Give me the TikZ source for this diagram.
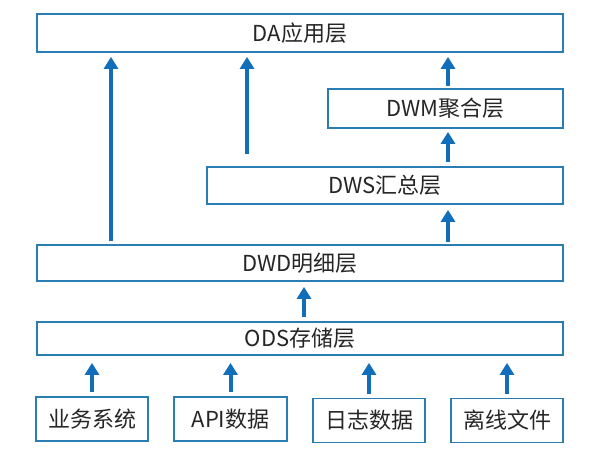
\documentclass[tikz,border=0pt]{standalone}
\usepackage{fontspec}
\setmainfont{Noto Sans CJK SC}
\usetikzlibrary{arrows.meta}
\definecolor{boxc}{RGB}{42,125,178}
\definecolor{arrc}{RGB}{16,110,186}
\definecolor{txtc}{RGB}{38,38,38}
\tikzset{
  layer/.style={draw=boxc, line width=1.8pt, fill=white, inner sep=0pt,
    text=txtc, font=\fontsize{22}{25}\selectfont},
  arr/.style={draw=arrc, line width=4pt, -{Triangle[width=14pt,length=12pt]}}
}
\begin{document}
\begin{tikzpicture}[x=1pt,y=-1pt]
\useasboundingbox (0,0) rectangle (600,467);
% layers
\node[layer, minimum width=526pt, minimum height=38pt] (DA) at (300,33) {DA应用层};
\node[layer, minimum width=235pt, minimum height=39pt] (DWM) at (445.5,108.5) {DWM聚合层};
\node[layer, minimum width=356pt, minimum height=37pt] (DWS) at (385,185.5) {DWS汇总层};
\node[layer, minimum width=526pt, minimum height=36pt] (DWD) at (300,263) {DWD明细层};
\node[layer, minimum width=526pt, minimum height=33pt] (ODS) at (300,338.5) {ODS存储层};
% sources
\node[layer, minimum width=112pt, minimum height=44pt] (S1) at (92,419) {业务系统};
\node[layer, minimum width=113pt, minimum height=44pt] (S2) at (230.5,419) {API数据};
\node[layer, minimum width=112pt, minimum height=44pt] (S3) at (369,420.5) {日志数据};
\node[layer, minimum width=112pt, minimum height=44pt] (S4) at (507,420.5) {离线文件};
% x positions of arrows
\coordinate (xa) at (111,0);
\coordinate (xb) at (247,0);
\coordinate (xc) at (448,0);
\coordinate (xd) at (304,0);
% arrows
\draw[arr, shorten <=3pt, shorten >=4pt] (DWD.north -| xa) -- (DA.south -| xa);
\draw[arr, shorten <=12pt, shorten >=4pt] (DWS.north -| xb) -- (DA.south -| xb);
\draw[arr, shorten <=2pt, shorten >=4pt] (DWM.north -| xc) -- (DA.south -| xc);
\draw[arr, shorten <=4pt, shorten >=3pt] (DWS.north -| xc) -- (DWM.south -| xc);
\draw[arr, shorten <=2pt, shorten >=5pt] (DWD.north -| xc) -- (DWS.south -| xc);
\draw[arr, shorten <=4pt, shorten >=5pt] (ODS.north -| xd) -- (DWD.south -| xd);
\draw[arr, shorten <=4pt, shorten >=7pt] (S1.north) -- (S1.north |- ODS.south);
\draw[arr, shorten <=4pt, shorten >=7pt] (S2.north) -- (S2.north |- ODS.south);
\draw[arr, shorten <=4pt, shorten >=7pt] (S3.north) -- (S3.north |- ODS.south);
\draw[arr, shorten <=4pt, shorten >=7pt] (S4.north) -- (S4.north |- ODS.south);
\end{tikzpicture}
\end{document}
